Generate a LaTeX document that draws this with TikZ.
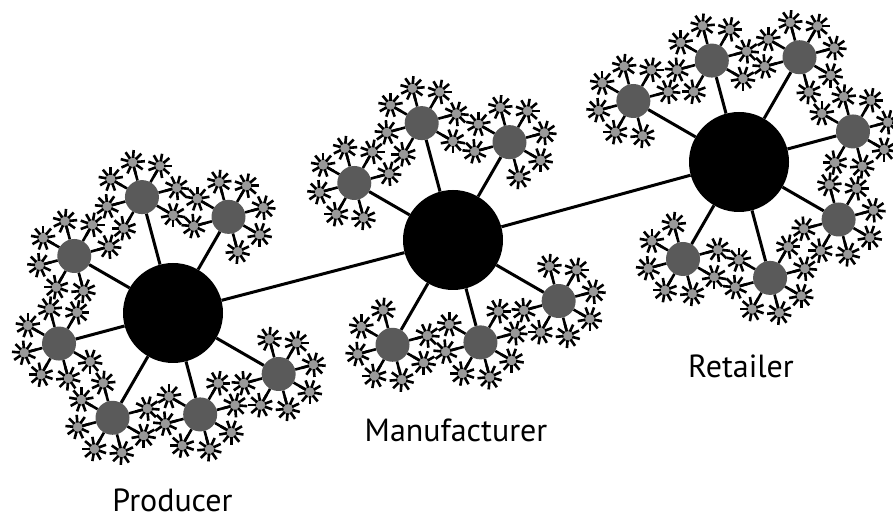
\documentclass[tikz,border=0pt]{standalone}
\usepackage{fontspec}
\setmainfont{PT Sans}
\usepackage{xcolor}
\usepackage{tikz}
\definecolor{satgray}{HTML}{5A5A5A}
\definecolor{seedgray}{HTML}{999999}
\tikzset{
	hub/.style={circle,fill=black,minimum size=100pt,inner sep=0pt},
	sat/.style={circle,fill=satgray,minimum size=34pt,inner sep=0pt},
	seed/.style={circle,fill=seedgray,minimum size=12pt,inner sep=0pt},
	link/.style={line width=3pt},
	spoke/.style={line width=2.6pt},
	spike/.style={line width=2.6pt},
	caption/.style={font=\fontsize{32}{37}\selectfont,anchor=base,inner sep=0pt}
}
% #1 hub, #2 satellite name, #3 angle from hub, #4 distance
\newcommand{\drawcluster}[4]{%
	\path (#1) ++(#3:#4) node[sat] (#2) {};
	\draw[link] (#1) -- (#2);
	\foreach \k in {1,...,7}{
		\path (#2) ++({#3+180+45*\k}:36) node[seed] (#2-\k) {};
		\draw[spoke] (#2) -- (#2-\k);
		\foreach \s in {0,40,...,320}
			\draw[spike] (#2-\k) ++({\s+#3+45*\k}:4.5) -- ++({\s+#3+45*\k}:7.8);
	}
}

\begin{document}
\begin{tikzpicture}[line cap=butt,line join=round,x=1pt,y=1pt]
		\useasboundingbox (0,0) rectangle (893,521);
		\node[hub] (producer) at (173,208) {};
		\node[hub] (manufacturer) at (453,281) {};
		\node[hub] (retailer) at (739,359) {};
		\draw[link] (producer) -- (manufacturer) -- (retailer);
		% producer
		\drawcluster{producer}{p1}{60}{111}
		\drawcluster{producer}{p2}{105}{120}
		\drawcluster{producer}{p3}{150}{114}
		\drawcluster{producer}{p4}{195}{118}
		\drawcluster{producer}{p5}{240}{121}
		\drawcluster{producer}{p6}{285}{105}
		\drawcluster{producer}{p7}{330}{122}
		% manufacturer
		\drawcluster{manufacturer}{m1}{60}{113}
		\drawcluster{manufacturer}{m2}{105}{121}
		\drawcluster{manufacturer}{m3}{150}{114}
		\drawcluster{manufacturer}{m4}{240}{121}
		\drawcluster{manufacturer}{m5}{285}{106}
		\drawcluster{manufacturer}{m6}{330}{122}
		% retailer
		\drawcluster{retailer}{r1}{15}{118}
		\drawcluster{retailer}{r2}{60}{121}
		\drawcluster{retailer}{r3}{105}{105}
		\drawcluster{retailer}{r4}{150}{122}
		\drawcluster{retailer}{r5}{240}{112}
		\drawcluster{retailer}{r6}{285}{120}
		\drawcluster{retailer}{r7}{330}{115}
		\node[caption] (producerlabel) at (172.5,9) {Producer};
		\node[caption] (manufacturerlabel) at (456,79) {Manufacturer};
		\node[caption] (retailerlabel) at (741,143) {Retailer};
	\end{tikzpicture}
\end{document}
